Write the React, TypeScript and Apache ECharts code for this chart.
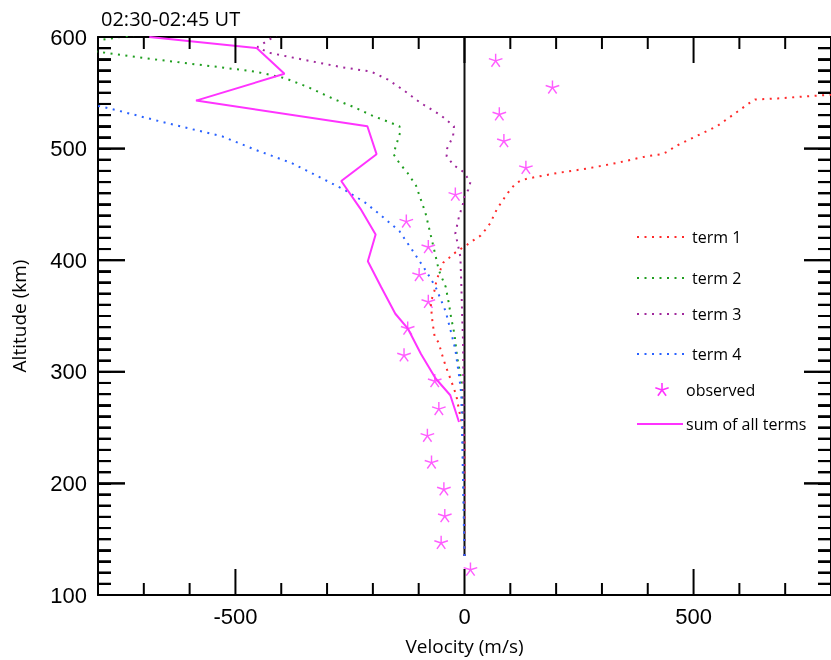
import React, { useEffect, useRef } from "react";
import * as echarts from "echarts";

// ---- tick values ----
const velocityTicks = [-500, 0, 500];
const velocityMinorTicks = [-800, -700, -600, -500, -400, -300, -200, -100, 0, 100, 200, 300, 400, 500, 600, 700, 800];
const altitudeTicks = [100, 200, 300, 400, 500, 600];
const altitudeMinorTicks = [
  100, 110, 120, 130, 140, 150, 160, 170, 180, 190,
  200, 210, 220, 230, 240, 250, 260, 270, 280, 290,
  300, 310, 320, 330, 340, 350, 360, 370, 380, 390,
  400, 410, 420, 430, 440, 450, 460, 470, 480, 490,
  500, 510, 520, 530, 540, 550, 560, 570, 580, 590, 600,
];

// ---- zero reference line ----
const zeroVelocity = [0, 0];
const zeroAltitude = [135, 600];

// ---- term 1 (red) ----
const term1Velocity = [0, 0, -5, -12, -18, -30, -41, -51, -56, -65, -70, -74, -66, -61, -52, -46, -34, -23, -5, 6, 20, 35, 45, 56, 71, 89, 96, 110, 121, 136, 201, 266, 331, 396, 432, 446, 460, 505, 551, 592, 619, 634, 684, 788, 850];
const term1Altitude = [135, 240, 252, 266, 279, 293, 305, 318, 326, 331, 345, 362, 372, 382, 392, 398, 402, 406, 411, 414, 418, 422, 427, 433, 446, 457, 461, 468, 471, 473, 478, 482, 487, 493, 495, 498, 502, 511, 520, 532, 540, 544, 545, 548, 549];

// ---- term 2 (green) ----
const term2Velocity = [0, -4, -7, -16, -22, -29, -34, -41, -56, -66, -74, -85, -95, -106, -124, -142, -155, -150, -140, -142, -160, -204, -240, -283, -341, -391, -456, -536, -637, -716, -785, -900, -800, -700];
const term2Altitude = [135, 275, 293, 313, 334, 348, 361, 376, 391, 409, 423, 442, 454, 467, 478, 487, 495, 502, 515, 520, 523, 530, 537, 544, 555, 563, 569, 573, 578, 582, 586, 592, 597, 603];

// ---- term 3 (purple) ----
const term3Velocity = [0, -3, -5, -7, -9, -16, -20, -12, -3, -4, 8, 13, -2, -23, -39, -38, -25, -23, -52, -96, -135, -168, -204, -269, -356, -428, -452, -417, -390];
const term3Altitude = [135, 325, 349, 379, 403, 417, 424, 439, 451, 454, 463, 470, 479, 485, 493, 500, 511, 520, 530, 541, 553, 562, 569, 573, 580, 586, 591, 600, 606];

// ---- term 4 (blue) ----
const term4Velocity = [0, -7, -11, -20, -29, -41, -48, -63, -85, -114, -142, -179, -218, -262, -319, -377, -457, -529, -601, -680, -746, -796, -840];
const term4Altitude = [135, 280, 294, 320, 335, 354, 361, 376, 391, 409, 426, 439, 452, 463, 475, 487, 499, 511, 518, 526, 533, 538, 541];

// ---- sum of all terms (magenta line) ----
const sumVelocity = [-12, -31, -63, -95, -124, -151, -182, -211, -194, -227, -269, -192, -212, -586, -393, -453, -688];
const sumAltitude = [255, 279, 294, 316, 339, 352, 376, 399, 423, 446, 471, 495, 520, 543, 567, 590, 600];

// ---- observed (stars) ----
const observedVelocity = [13, -51, -43, -45, -72, -81, -56, -65, -132, -124, -79, -99, -79, -127, -20, 134, 86, 76, 192, 68];
const observedAltitude = [123, 147, 171, 195, 219, 243, 267, 292, 315, 339, 363, 387, 412, 435, 459, 483, 507, 531, 555, 579];

const zip = (v: number[], a: number[]) => v.map((x, i) => [x, a[i]]);

function asteriskPath(L = 100, w = 10): string {
  let d = "";
  for (let k = 0; k < 5; k++) {
    const t = ((-90 + 72 * k) * Math.PI) / 180;
    const dx = Math.cos(t), dy = Math.sin(t);
    const nx = -dy, ny = dx;
    const pts = [
      [-w * nx, -w * ny],
      [L * dx - w * nx, L * dy - w * ny],
      [L * dx + w * nx, L * dy + w * ny],
      [w * nx, w * ny],
    ];
    d += "M" + pts.map((p) => p[0].toFixed(1) + " " + p[1].toFixed(1)).join(" L") + " Z ";
  }
  return d;
}
const STAR = asteriskPath();

const RED = "#ff2a2a";
const GREEN = "#1f9e1f";
const PURPLE = "#a0289c";
const BLUE = "#2a62ff";
const MAGENTA = "#ff33ff";

const SANS = '"Open Sans", "Noto Sans", sans-serif';
const ARIAL = '"Liberation Sans", Arial, sans-serif';

const X_MIN = -800, X_MAX = 800, Y_MIN = 100, Y_MAX = 600;

export default function App() {
  const ref = useRef<HTMLDivElement>(null);
  useEffect(() => {
    if (!ref.current) return;
    const chart = echarts.init(ref.current, undefined, { renderer: "svg" });
    const black = () => ({ color: "#000", width: 2 });

    const lineSeries = (name: string, v: number[], a: number[], color: string, dotted: boolean) => ({
      type: "line",
      name,
      data: zip(v, a),
      showSymbol: false,
      symbol: "none",
      lineStyle: { color, width: 2, type: dotted ? [2, 5.5] : "solid" },
    });

    // codes: 0 = x minor, 1 = x major, 2 = y minor, 3 = y major
    const tickData = [
      ...velocityMinorTicks.map((v) => [v, velocityTicks.indexOf(v) >= 0 ? 1 : 0]),
      ...altitudeMinorTicks.map((a) => [a, altitudeTicks.indexOf(a) >= 0 ? 3 : 2]),
    ];

    const tickSeries = {
      type: "custom",
      name: "ticks",
      silent: true,
      clip: false,
      z: 5,
      data: tickData,
      encode: { x: 0, y: 1 },
      renderItem: (_p: any, api: any) => {
        const v = api.value(0);
        const code = api.value(1);
        const st = { stroke: "#000", lineWidth: 2 };
        if (code < 2) {
          const len = code === 1 ? 26 : 12;
          const b = api.coord([v, Y_MIN]);
          const t = api.coord([v, Y_MAX]);
          return {
            type: "group",
            children: [
              { type: "line", shape: { x1: b[0], y1: b[1], x2: b[0], y2: b[1] - len }, style: st },
              { type: "line", shape: { x1: t[0], y1: t[1], x2: t[0], y2: t[1] + len }, style: st },
            ],
          };
        }
        const len = code === 3 ? 27 : 13;
        const l = api.coord([X_MIN, v]);
        const r = api.coord([X_MAX, v]);
        return {
          type: "group",
          children: [
            { type: "line", shape: { x1: l[0], y1: l[1], x2: l[0] + len, y2: l[1] }, style: st },
            { type: "line", shape: { x1: r[0], y1: r[1], x2: r[0] - len, y2: r[1] }, style: st },
          ],
        };
      },
    };

    const legendY = [237, 278, 314, 354, 390, 424];
    const legendText = (txt: string, x: number, y: number) => ({
      type: "text",
      x,
      y,
      style: { text: txt, fill: "#000", font: `16px ${SANS}`, verticalAlign: "middle" },
    });
    const legendLine = (y: number, color: string, dotted: boolean, x2 = 685) => ({
      type: "line",
      shape: { x1: 637, y1: y, x2, y2: y },
      style: dotted ? { stroke: color, lineWidth: 2, lineDash: [2, 5.5] } : { stroke: color, lineWidth: 2 },
    });
    const starArms = [0, 1, 2, 3, 4].map((k) => {
      const t = ((-90 + 72 * k) * Math.PI) / 180;
      return {
        type: "line",
        shape: { x1: 662, y1: legendY[4], x2: 662 + 7 * Math.cos(t), y2: legendY[4] + 7 * Math.sin(t) },
        style: { stroke: MAGENTA, lineWidth: 1.6 },
      };
    });
    const legendGraphics = [
      legendLine(legendY[0], RED, true),
      legendText("term 1", 692, legendY[0]),
      legendLine(legendY[1], GREEN, true),
      legendText("term 2", 692, legendY[1]),
      legendLine(legendY[2], PURPLE, true),
      legendText("term 3", 692, legendY[2]),
      legendLine(legendY[3], BLUE, true),
      legendText("term 4", 692, legendY[3]),
      ...starArms,
      legendText("observed", 686, legendY[4]),
      legendLine(legendY[5], MAGENTA, false, 683),
      legendText("sum of all terms", 686, legendY[5]),
    ];

    const yTickAxis = { show: true, inside: true, length: 13, lineStyle: black() };

    chart.setOption({
      animation: false,
      title: {
        text: "02:30-02:45 UT",
        left: 96,
        top: 3,
        textStyle: { fontSize: 20, fontWeight: "normal", fontFamily: SANS, color: "#000" },
      },
      grid: { left: 98, right: -6, top: 37, bottom: 65 },
      xAxis: [
        {
          type: "value", min: X_MIN, max: X_MAX, interval: 100, position: "bottom",
          splitLine: { show: false },
          axisLine: { show: true, onZero: false, lineStyle: black() },
          axisTick: { show: false },
          axisLabel: { customValues: velocityTicks.slice(), fontSize: 22, fontFamily: ARIAL, color: "#000", margin: 10 },
          name: "Velocity (m/s)",
          nameLocation: "middle",
          nameGap: 41,
          nameTextStyle: { fontSize: 19, fontFamily: SANS, color: "#000" },
        },
        {
          type: "value", min: X_MIN, max: X_MAX, interval: 100, position: "top",
          splitLine: { show: false },
          axisLine: { show: true, onZero: false, lineStyle: black() },
          axisTick: { show: false },
          axisLabel: { show: false },
        },
      ],
      yAxis: [
        {
          type: "value", min: Y_MIN, max: Y_MAX, interval: 10, position: "left",
          splitLine: { show: false },
          axisLine: { show: true, onZero: false, lineStyle: black() },
          axisTick: { ...yTickAxis, lineStyle: black() },
          axisLabel: { customValues: altitudeTicks.slice(), fontSize: 22, fontFamily: ARIAL, color: "#000", margin: 11 },
          name: "Altitude (km)",
          nameLocation: "middle",
          nameGap: 70,
          nameTextStyle: { fontSize: 19, fontFamily: SANS, color: "#000" },
        },
        {
          type: "value", min: Y_MIN, max: Y_MAX, interval: 10, position: "right",
          splitLine: { show: false },
          axisLine: { show: true, onZero: false, lineStyle: black() },
          axisTick: { ...yTickAxis, lineStyle: black() },
          axisLabel: { show: false },
        },
      ],
      series: [
        tickSeries,
        lineSeries("zero", zeroVelocity, zeroAltitude, "#111", false),
        lineSeries("term 1", term1Velocity, term1Altitude, RED, true),
        lineSeries("term 2", term2Velocity, term2Altitude, GREEN, true),
        lineSeries("term 3", term3Velocity, term3Altitude, PURPLE, true),
        lineSeries("term 4", term4Velocity, term4Altitude, BLUE, true),
        lineSeries("sum of all terms", sumVelocity, sumAltitude, MAGENTA, false),
        {
          type: "scatter",
          name: "observed",
          data: zip(observedVelocity, observedAltitude),
          symbol: "path://" + STAR,
          symbolSize: [14, 13.5],
          itemStyle: { color: MAGENTA },
        },
      ],
      graphic: legendGraphics,
    });

    // y ticks placed through the library's own coordinate conversion
    const yTickGraphics: any[] = [];
    altitudeMinorTicks.forEach((a) => {
      const len = altitudeTicks.indexOf(a) >= 0 ? 27 : 13;
      const l = chart.convertToPixel({ gridIndex: 0 }, [X_MIN, a]) as number[];
      const r = chart.convertToPixel({ gridIndex: 0 }, [X_MAX, a]) as number[];
      if (!l || !r) return;
      yTickGraphics.push(
        { type: "line", z: 10, shape: { x1: l[0], y1: l[1], x2: l[0] + len, y2: l[1] }, style: { stroke: "#000", lineWidth: 2 } },
        { type: "line", z: 10, shape: { x1: r[0], y1: r[1], x2: r[0] - len, y2: r[1] }, style: { stroke: "#000", lineWidth: 2 } }
      );
    });
    chart.setOption({ graphic: [...legendGraphics, ...yTickGraphics] });

    return () => chart.dispose();
  }, []);
  return <div ref={ref} style={{ position: "fixed", left: 0, top: 0, width: 831, height: 660 }} />;
}
